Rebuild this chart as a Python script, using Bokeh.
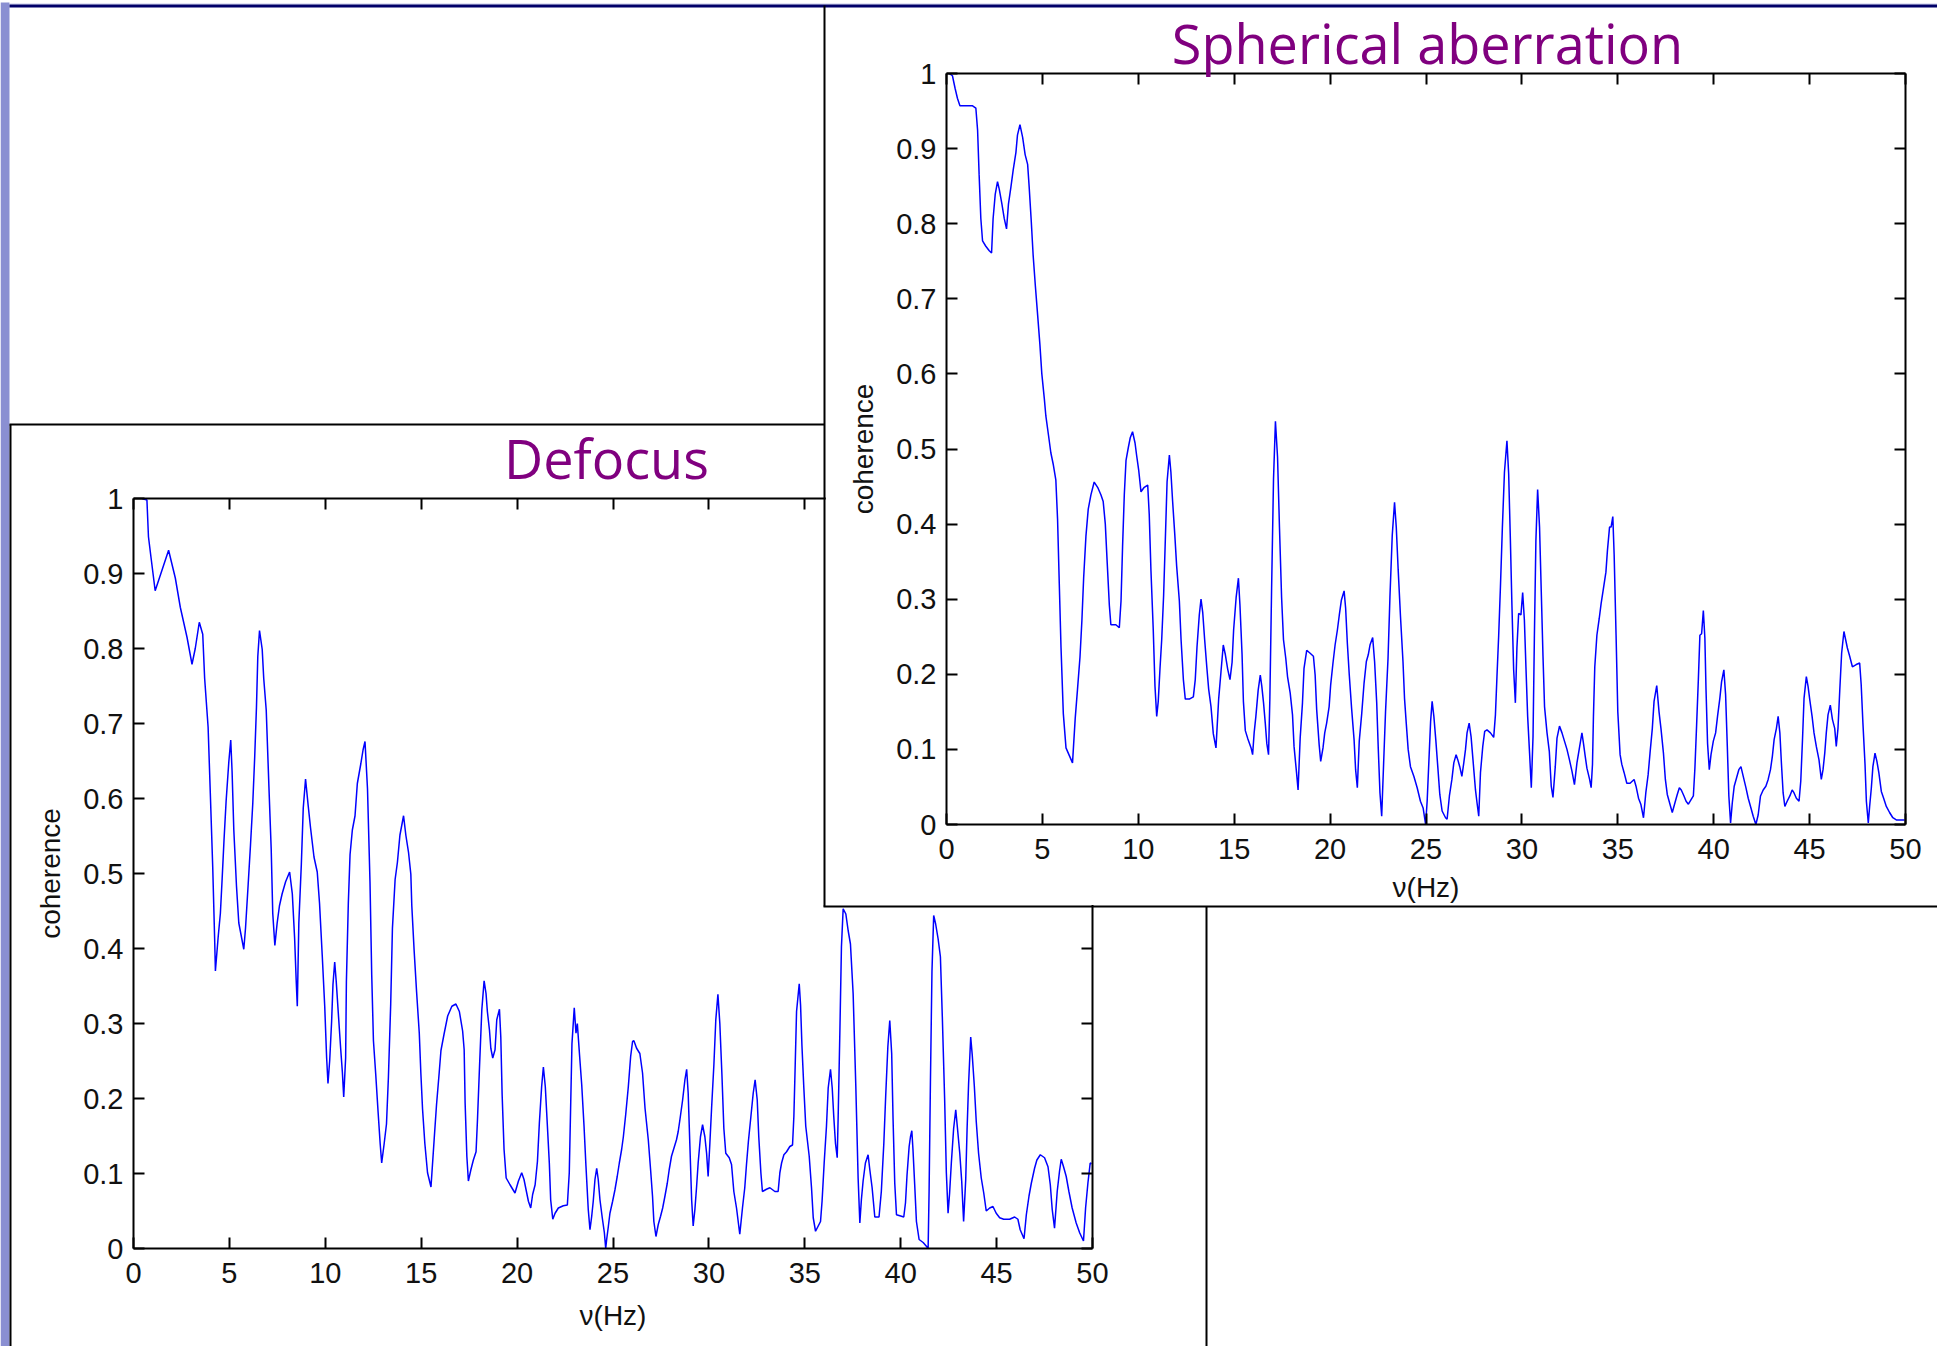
from bokeh.plotting import figure
from bokeh.models import Range1d, LinearAxis, FixedTicker
from bokeh.core.properties import value
from bokeh.embed import file_html
from bokeh.resources import INLINE

# ---------------- data ----------------
defocus_freq = [0.44, 0.70, 0.78, 0.92, 1.13, 1.83, 2.18, 2.44, 2.79, 3.05, 3.22, 3.43, 3.61, 3.71, 3.89, 4.01,
    4.13, 4.23, 4.27, 4.41, 4.53, 4.62, 4.72, 4.83, 4.97, 5.07, 5.14, 5.23, 5.37, 5.49, 5.75, 5.84, 5.98, 6.10,
    6.22, 6.32, 6.41, 6.48, 6.57, 6.71, 6.79, 6.92, 7.06, 7.18, 7.26, 7.37, 7.49, 7.61, 7.75, 7.93, 8.14, 8.28,
    8.40, 8.48, 8.54, 8.62, 8.75, 8.85, 8.97, 9.11, 9.23, 9.41, 9.58, 9.70, 9.84, 9.97, 10.07, 10.14, 10.23,
    10.33, 10.40, 10.49, 10.57, 10.68, 10.80, 10.89, 10.96, 11.06, 11.10, 11.20, 11.29, 11.41, 11.55, 11.67,
    11.85, 11.97, 12.07, 12.20, 12.33, 12.42, 12.51, 12.63, 12.75, 12.86, 12.94, 13.07, 13.19, 13.29, 13.41,
    13.50, 13.64, 13.76, 13.89, 14.08, 14.20, 14.34, 14.46, 14.51, 14.63, 14.76, 14.90, 14.98, 15.07, 15.19,
    15.33, 15.51, 15.68, 15.80, 15.94, 16.03, 16.20, 16.38, 16.60, 16.81, 16.99, 17.16, 17.24, 17.29, 17.38,
    17.46, 17.59, 17.72, 17.86, 17.93, 18.04, 18.16, 18.28, 18.38, 18.45, 18.56, 18.63, 18.73, 18.85, 18.94,
    19.08, 19.15, 19.22, 19.32, 19.43, 19.63, 19.89, 20.07, 20.24, 20.36, 20.47, 20.59, 20.71, 20.81, 20.94,
    21.06, 21.16, 21.28, 21.37, 21.47, 21.58, 21.68, 21.75, 21.86, 21.98, 22.15, 22.41, 22.62, 22.72, 22.79,
    22.86, 22.98, 23.07, 23.14, 23.25, 23.37, 23.49, 23.59, 23.71, 23.80, 23.89, 23.97, 24.06, 24.15, 24.23,
    24.32, 24.44, 24.55, 24.62, 24.67, 24.76, 24.84, 24.98, 25.10, 25.22, 25.33, 25.45, 25.54, 25.66, 25.80,
    25.92, 26.02, 26.09, 26.23, 26.40, 26.54, 26.67, 26.84, 26.96, 27.06, 27.13, 27.24, 27.36, 27.48, 27.59,
    27.71, 27.83, 27.93, 28.05, 28.18, 28.31, 28.40, 28.49, 28.63, 28.75, 28.84, 28.92, 29.01, 29.10, 29.18,
    29.27, 29.36, 29.44, 29.56, 29.67, 29.79, 29.88, 29.96, 30.05, 30.14, 30.26, 30.36, 30.47, 30.57, 30.68,
    30.78, 30.88, 31.06, 31.18, 31.30, 31.44, 31.61, 31.75, 31.87, 31.96, 32.06, 32.19, 32.31, 32.41, 32.52,
    32.60, 32.71, 32.79, 33.00, 33.18, 33.44, 33.61, 33.70, 33.79, 33.91, 34.05, 34.22, 34.36, 34.43, 34.50,
    34.57, 34.71, 34.78, 34.85, 34.95, 35.05, 35.23, 35.35, 35.44, 35.56, 35.70, 35.82, 35.90, 36.01, 36.13,
    36.22, 36.34, 36.43, 36.51, 36.60, 36.69, 36.74, 36.83, 36.91, 37.00, 37.14, 37.26, 37.38, 37.52, 37.66,
    37.78, 37.87, 37.95, 38.04, 38.16, 38.30, 38.39, 38.51, 38.65, 38.87, 38.99, 39.12, 39.22, 39.33, 39.43,
    39.53, 39.60, 39.69, 39.78, 40.04, 40.16, 40.25, 40.33, 40.44, 40.51, 40.58, 40.64, 40.73, 40.82, 40.96,
    41.17, 41.34, 41.43, 41.48, 41.55, 41.63, 41.72, 41.82, 41.95, 42.07, 42.17, 42.29, 42.38, 42.47, 42.55,
    42.64, 42.76, 42.87, 42.95, 43.08, 43.18, 43.28, 43.39, 43.46, 43.54, 43.65, 43.73, 43.84, 43.94, 44.06,
    44.20, 44.33, 44.46, 44.64, 44.81, 44.98, 45.16, 45.37, 45.68, 45.94, 46.11, 46.23, 46.43, 46.55, 46.69,
    46.81, 46.98, 47.10, 47.28, 47.50, 47.68, 47.80, 47.90, 48.02, 48.16, 48.28, 48.37, 48.49, 48.63, 48.77,
    48.94, 49.15, 49.33, 49.53, 49.64, 49.76, 49.88, 49.95]
defocus_coh = [1.000, 0.998, 0.949, 0.920, 0.877, 0.931, 0.894, 0.855, 0.815, 0.779, 0.800, 0.835, 0.819, 0.760,
    0.695, 0.603, 0.509, 0.414, 0.370, 0.414, 0.447, 0.492, 0.545, 0.597, 0.649, 0.678, 0.636, 0.558, 0.483,
    0.434, 0.399, 0.427, 0.486, 0.538, 0.594, 0.656, 0.721, 0.789, 0.824, 0.799, 0.760, 0.718, 0.616, 0.532,
    0.447, 0.404, 0.434, 0.457, 0.473, 0.489, 0.502, 0.473, 0.414, 0.359, 0.323, 0.434, 0.512, 0.587, 0.626,
    0.590, 0.561, 0.522, 0.502, 0.460, 0.391, 0.323, 0.254, 0.220, 0.251, 0.303, 0.352, 0.382, 0.356, 0.313,
    0.267, 0.235, 0.202, 0.254, 0.356, 0.460, 0.525, 0.558, 0.577, 0.620, 0.646, 0.665, 0.676, 0.613, 0.489,
    0.365, 0.277, 0.232, 0.183, 0.140, 0.114, 0.140, 0.166, 0.228, 0.326, 0.427, 0.492, 0.515, 0.551, 0.577,
    0.551, 0.528, 0.499, 0.457, 0.398, 0.342, 0.287, 0.235, 0.186, 0.140, 0.101, 0.082, 0.147, 0.192, 0.235,
    0.264, 0.287, 0.310, 0.323, 0.326, 0.316, 0.290, 0.265, 0.194, 0.123, 0.090, 0.105, 0.118, 0.129, 0.169,
    0.242, 0.318, 0.357, 0.340, 0.316, 0.291, 0.267, 0.254, 0.265, 0.305, 0.319, 0.282, 0.205, 0.132, 0.094,
    0.085, 0.074, 0.090, 0.101, 0.092, 0.078, 0.063, 0.054, 0.072, 0.085, 0.116, 0.167, 0.216, 0.242, 0.216,
    0.163, 0.114, 0.065, 0.039, 0.047, 0.054, 0.057, 0.058, 0.101, 0.187, 0.273, 0.321, 0.287, 0.300, 0.260,
    0.218, 0.163, 0.110, 0.052, 0.025, 0.043, 0.063, 0.092, 0.107, 0.092, 0.065, 0.041, 0.021, 0.000, 0.012,
    0.030, 0.047, 0.063, 0.078, 0.096, 0.114, 0.132, 0.149, 0.178, 0.216, 0.256, 0.276, 0.277, 0.267, 0.260,
    0.234, 0.187, 0.145, 0.105, 0.070, 0.036, 0.016, 0.032, 0.043, 0.054, 0.070, 0.087, 0.105, 0.123, 0.134,
    0.145, 0.156, 0.172, 0.198, 0.225, 0.239, 0.207, 0.136, 0.065, 0.030, 0.052, 0.083, 0.114, 0.149, 0.165,
    0.149, 0.127, 0.096, 0.140, 0.187, 0.245, 0.305, 0.339, 0.300, 0.231, 0.160, 0.127, 0.121, 0.112, 0.076,
    0.054, 0.019, 0.054, 0.081, 0.112, 0.143, 0.176, 0.207, 0.225, 0.198, 0.149, 0.101, 0.076, 0.079, 0.081,
    0.076, 0.076, 0.101, 0.114, 0.125, 0.129, 0.136, 0.138, 0.176, 0.245, 0.316, 0.353, 0.324, 0.271, 0.214,
    0.163, 0.123, 0.081, 0.041, 0.023, 0.030, 0.036, 0.063, 0.114, 0.163, 0.214, 0.239, 0.214, 0.176, 0.140,
    0.121, 0.176, 0.291, 0.402, 0.453, 0.446, 0.424, 0.406, 0.340, 0.216, 0.094, 0.034, 0.065, 0.090, 0.114,
    0.125, 0.105, 0.081, 0.042, 0.042, 0.076, 0.140, 0.205, 0.269, 0.304, 0.260, 0.174, 0.087, 0.045, 0.043,
    0.042, 0.061, 0.098, 0.136, 0.149, 0.157, 0.132, 0.085, 0.036, 0.012, 0.008, 0.003, 0.000, 0.076, 0.222,
    0.369, 0.444, 0.433, 0.413, 0.389, 0.309, 0.200, 0.101, 0.047, 0.074, 0.114, 0.160, 0.185, 0.163, 0.127,
    0.090, 0.036, 0.092, 0.158, 0.220, 0.282, 0.258, 0.216, 0.169, 0.127, 0.094, 0.074, 0.050, 0.054, 0.056,
    0.047, 0.041, 0.039, 0.039, 0.042, 0.039, 0.025, 0.013, 0.045, 0.070, 0.087, 0.107, 0.118, 0.125, 0.121,
    0.109, 0.085, 0.052, 0.027, 0.076, 0.103, 0.119, 0.109, 0.096, 0.076, 0.054, 0.034, 0.021, 0.010, 0.054,
    0.087, 0.114, 0.113]

spherical_freq = [0.14, 0.31, 0.45, 0.57, 0.70, 1.36, 1.53, 1.62, 1.70, 1.79, 1.88, 2.05, 2.23, 2.35, 2.43,
    2.54, 2.66, 2.75, 2.89, 3.01, 3.13, 3.23, 3.36, 3.48, 3.62, 3.70, 3.83, 3.97, 4.10, 4.23, 4.31, 4.42, 4.52,
    4.63, 4.75, 4.87, 4.97, 5.10, 5.18, 5.32, 5.44, 5.57, 5.70, 5.79, 5.88, 5.97, 6.09, 6.23, 6.40, 6.57, 6.71,
    6.83, 6.96, 7.06, 7.15, 7.27, 7.39, 7.53, 7.70, 7.88, 8.05, 8.17, 8.28, 8.38, 8.49, 8.57, 8.83, 9.01, 9.10,
    9.18, 9.27, 9.36, 9.48, 9.58, 9.70, 9.83, 9.91, 10.02, 10.14, 10.31, 10.49, 10.57, 10.66, 10.78, 10.87,
    10.96, 11.04, 11.13, 11.22, 11.32, 11.41, 11.50, 11.62, 11.70, 11.79, 11.90, 12.00, 12.14, 12.23, 12.35,
    12.45, 12.66, 12.87, 12.97, 13.06, 13.18, 13.27, 13.36, 13.46, 13.57, 13.67, 13.79, 13.91, 14.05, 14.19,
    14.31, 14.43, 14.54, 14.66, 14.78, 14.89, 14.97, 15.10, 15.22, 15.30, 15.41, 15.48, 15.58, 15.70, 15.88,
    15.96, 16.04, 16.13, 16.25, 16.36, 16.44, 16.53, 16.62, 16.70, 16.79, 16.86, 16.95, 17.05, 17.15, 17.26,
    17.36, 17.47, 17.57, 17.69, 17.78, 17.92, 18.04, 18.12, 18.25, 18.33, 18.44, 18.56, 18.64, 18.78, 18.96,
    19.13, 19.22, 19.30, 19.43, 19.51, 19.63, 19.72, 19.82, 19.95, 20.03, 20.15, 20.26, 20.38, 20.48, 20.59,
    20.73, 20.81, 20.90, 21.00, 21.12, 21.25, 21.33, 21.42, 21.52, 21.65, 21.77, 21.89, 21.99, 22.08, 22.22,
    22.32, 22.43, 22.51, 22.60, 22.69, 22.81, 22.89, 23.02, 23.12, 23.24, 23.36, 23.45, 23.55, 23.67, 23.80,
    23.88, 23.97, 24.07, 24.19, 24.37, 24.54, 24.71, 24.85, 24.98, 25.06, 25.15, 25.24, 25.32, 25.41, 25.51,
    25.62, 25.72, 25.84, 26.02, 26.10, 26.22, 26.35, 26.45, 26.57, 26.66, 26.76, 26.87, 26.97, 27.06, 27.14,
    27.25, 27.35, 27.45, 27.58, 27.66, 27.75, 27.84, 27.96, 28.06, 28.18, 28.36, 28.53, 28.62, 28.70, 28.79,
    28.88, 28.98, 29.09, 29.22, 29.31, 29.40, 29.48, 29.57, 29.66, 29.74, 29.83, 29.95, 30.04, 30.13, 30.21,
    30.30, 30.40, 30.49, 30.58, 30.65, 30.73, 30.82, 30.92, 31.01, 31.10, 31.18, 31.31, 31.43, 31.53, 31.62,
    31.74, 31.83, 31.96, 32.09, 32.22, 32.35, 32.48, 32.61, 32.74, 32.87, 33.00, 33.13, 33.21, 33.30, 33.39,
    33.53, 33.61, 33.68, 33.73, 33.80, 33.91, 34.03, 34.13, 34.25, 34.38, 34.46, 34.57, 34.65, 34.74, 34.81,
    34.91, 35.00, 35.12, 35.21, 35.33, 35.47, 35.64, 35.85, 35.95, 36.08, 36.20, 36.34, 36.46, 36.58, 36.68,
    36.80, 36.89, 37.03, 37.15, 37.25, 37.38, 37.48, 37.58, 37.72, 37.84, 37.98, 38.10, 38.21, 38.31, 38.45,
    38.56, 38.68, 38.82, 38.94, 39.02, 39.11, 39.20, 39.28, 39.37, 39.46, 39.54, 39.60, 39.68, 39.77, 39.86,
    39.98, 40.10, 40.20, 40.32, 40.41, 40.53, 40.62, 40.71, 40.79, 40.88, 40.97, 41.07, 41.19, 41.31, 41.42,
    41.54, 41.68, 41.80, 41.92, 42.06, 42.20, 42.32, 42.44, 42.58, 42.72, 42.84, 42.96, 43.06, 43.15, 43.27,
    43.36, 43.45, 43.53, 43.62, 43.71, 43.83, 43.97, 44.09, 44.19, 44.31, 44.45, 44.54, 44.63, 44.71, 44.83,
    44.92, 45.01, 45.13, 45.23, 45.35, 45.49, 45.61, 45.70, 45.79, 45.87, 45.96, 46.08, 46.19, 46.31, 46.39,
    46.48, 46.57, 46.67, 46.79, 46.88, 46.97, 47.09, 47.23, 47.43, 47.61, 47.69, 47.78, 47.89, 47.96, 48.06,
    48.13, 48.22, 48.30, 48.41, 48.51, 48.61, 48.74, 48.86, 49.00, 49.17, 49.34, 49.52, 49.95]
spherical_coh = [1.000, 0.997, 0.980, 0.967, 0.957, 0.957, 0.954, 0.925, 0.866, 0.807, 0.777, 0.770, 0.764,
    0.761, 0.807, 0.839, 0.856, 0.846, 0.826, 0.807, 0.793, 0.826, 0.849, 0.872, 0.895, 0.918, 0.932, 0.915,
    0.892, 0.879, 0.849, 0.803, 0.757, 0.718, 0.679, 0.639, 0.600, 0.567, 0.544, 0.518, 0.495, 0.479, 0.459,
    0.407, 0.321, 0.236, 0.148, 0.102, 0.092, 0.082, 0.141, 0.180, 0.223, 0.272, 0.328, 0.384, 0.420, 0.439,
    0.456, 0.449, 0.439, 0.430, 0.400, 0.348, 0.292, 0.266, 0.266, 0.262, 0.298, 0.370, 0.439, 0.485, 0.502,
    0.515, 0.523, 0.508, 0.492, 0.472, 0.443, 0.449, 0.452, 0.413, 0.338, 0.259, 0.184, 0.144, 0.164, 0.207,
    0.246, 0.305, 0.380, 0.456, 0.492, 0.469, 0.430, 0.387, 0.344, 0.298, 0.246, 0.193, 0.167, 0.167, 0.170,
    0.193, 0.236, 0.279, 0.300, 0.282, 0.246, 0.210, 0.180, 0.157, 0.121, 0.102, 0.167, 0.203, 0.239, 0.226,
    0.207, 0.193, 0.216, 0.259, 0.302, 0.328, 0.292, 0.226, 0.164, 0.125, 0.115, 0.102, 0.093, 0.122, 0.144,
    0.179, 0.199, 0.184, 0.162, 0.135, 0.108, 0.093, 0.168, 0.314, 0.460, 0.537, 0.489, 0.396, 0.303, 0.246,
    0.221, 0.197, 0.175, 0.146, 0.104, 0.069, 0.046, 0.115, 0.162, 0.208, 0.232, 0.228, 0.224, 0.199, 0.153,
    0.106, 0.084, 0.102, 0.122, 0.135, 0.157, 0.186, 0.215, 0.239, 0.259, 0.279, 0.299, 0.311, 0.288, 0.241,
    0.199, 0.155, 0.113, 0.073, 0.049, 0.111, 0.148, 0.188, 0.217, 0.226, 0.239, 0.249, 0.217, 0.162, 0.102,
    0.042, 0.011, 0.095, 0.150, 0.221, 0.303, 0.385, 0.429, 0.396, 0.339, 0.277, 0.217, 0.168, 0.135, 0.100,
    0.077, 0.064, 0.049, 0.031, 0.022, 0.000, 0.031, 0.084, 0.137, 0.164, 0.144, 0.113, 0.075, 0.040, 0.018,
    0.009, 0.007, 0.038, 0.060, 0.082, 0.093, 0.086, 0.077, 0.064, 0.082, 0.100, 0.122, 0.135, 0.117, 0.086,
    0.046, 0.029, 0.011, 0.069, 0.104, 0.124, 0.126, 0.122, 0.116, 0.146, 0.197, 0.252, 0.316, 0.394, 0.469,
    0.511, 0.467, 0.378, 0.292, 0.206, 0.162, 0.235, 0.281, 0.279, 0.309, 0.272, 0.210, 0.144, 0.095, 0.049,
    0.117, 0.248, 0.378, 0.446, 0.396, 0.310, 0.224, 0.157, 0.122, 0.097, 0.051, 0.036, 0.077, 0.115, 0.131,
    0.122, 0.111, 0.100, 0.086, 0.071, 0.053, 0.082, 0.102, 0.122, 0.108, 0.091, 0.075, 0.060, 0.049, 0.080,
    0.144, 0.210, 0.252, 0.274, 0.294, 0.314, 0.336, 0.365, 0.396, 0.396, 0.410, 0.359, 0.252, 0.150, 0.093,
    0.080, 0.069, 0.055, 0.055, 0.060, 0.051, 0.035, 0.027, 0.009, 0.042, 0.066, 0.095, 0.128, 0.164, 0.185,
    0.150, 0.128, 0.095, 0.060, 0.040, 0.027, 0.016, 0.029, 0.040, 0.049, 0.046, 0.038, 0.031, 0.027, 0.033,
    0.038, 0.075, 0.133, 0.193, 0.252, 0.254, 0.285, 0.248, 0.179, 0.108, 0.073, 0.093, 0.111, 0.122, 0.144,
    0.168, 0.190, 0.206, 0.173, 0.104, 0.038, 0.002, 0.029, 0.051, 0.062, 0.073, 0.077, 0.064, 0.049, 0.035,
    0.024, 0.011, 0.000, 0.013, 0.038, 0.046, 0.051, 0.060, 0.073, 0.091, 0.113, 0.128, 0.144, 0.122, 0.082,
    0.042, 0.024, 0.031, 0.038, 0.046, 0.042, 0.035, 0.031, 0.058, 0.113, 0.168, 0.197, 0.184, 0.166, 0.144,
    0.122, 0.104, 0.086, 0.060, 0.073, 0.095, 0.122, 0.146, 0.159, 0.140, 0.128, 0.104, 0.128, 0.177, 0.228,
    0.257, 0.246, 0.235, 0.224, 0.210, 0.213, 0.215, 0.186, 0.135, 0.080, 0.031, 0.002, 0.024, 0.049, 0.077,
    0.095, 0.084, 0.069, 0.044, 0.035, 0.024, 0.016, 0.009, 0.006, 0.006]

x_ticks = [0, 5, 10, 15, 20, 25, 30, 35, 40, 45, 50]
y_ticks = [0, 0.1, 0.2, 0.3, 0.4, 0.5, 0.6, 0.7, 0.8, 0.9, 1]
y_tick_overrides = {0: "0", 1: "1"}
x_label = "ν(Hz)"
y_label = "coherence"
titles = ["Defocus", "Spherical aberration"]

TICK_FONT = "Liberation Sans"
TITLE_FONT = "Open Sans"
TITLE_COLOR = "#80007f"
W, H = 1937, 1346


def make_chart(freq, coh, cw, ch, bl, br, bt, bb, left, top, xlabel_standoff):
    p = figure(width=cw, height=ch, x_range=Range1d(0, 50), y_range=Range1d(0, 1),
               output_backend="svg", toolbar_location=None,
               min_border_left=bl, min_border_right=br, min_border_top=bt, min_border_bottom=bb,
               x_axis_label=x_label, y_axis_label=y_label)
    p.border_fill_color = "white"
    p.background_fill_color = "white"
    p.outline_line_color = None
    p.grid.visible = False
    for side in ("above", "right"):
        ax = LinearAxis(axis_label=None, major_label_text_color=None, major_label_standoff=0)
        p.add_layout(ax, side)
    p.xaxis.ticker = FixedTicker(ticks=x_ticks)
    p.yaxis.ticker = FixedTicker(ticks=y_ticks)
    for ax in p.axis:
        ax.major_tick_in = 11
        ax.major_tick_out = 0
        ax.minor_tick_line_color = None
        ax.major_tick_line_color = "black"
        ax.major_tick_line_width = 2
        ax.axis_line_color = "black"
        ax.axis_line_width = 2
    for ax in (p.below[0], p.left[0]):
        ax.major_label_text_font = TICK_FONT
        ax.major_label_text_font_size = "29px"
        ax.major_label_text_color = "#111111"
        ax.axis_label_text_font = TICK_FONT
        ax.axis_label_text_font_size = "28px"
        ax.axis_label_text_font_style = "normal"
        ax.axis_label_text_color = "#111111"
    p.below[0].major_label_standoff = 14
    p.left[0].major_label_standoff = 10
    p.below[0].axis_label_standoff = xlabel_standoff
    p.left[0].axis_label_standoff = 14
    p.left[0].major_label_overrides = y_tick_overrides

    p.line(freq, coh, line_color="#0000ff", line_width=1.5)
    p.styles = {"position": "absolute", "left": f"{left}px", "top": f"{top}px"}
    return p


p_def = make_chart(defocus_freq, defocus_coh, 1194, 921, 122, 113, 73, 98, 11, 425, 14)
p_sph = make_chart(spherical_freq, spherical_coh, 1112, 898, 121, 32, 66, 80, 825, 7, 10)

# transparent slide overlay (page pixel coordinates): strip, rules, frame borders, titles
page = figure(width=W, height=H, x_range=Range1d(0, W), y_range=Range1d(H, 0),
              output_backend="svg", toolbar_location=None, min_border=0,
              x_axis_type=None, y_axis_type=None)
page.outline_line_color = None
page.border_fill_color = None
page.background_fill_color = None
page.quad(left=0, right=9, top=2, bottom=H, fill_color="#8a8fd2", line_color=None)
page.segment(x0=9, y0=3.5, x1=W, y1=3.5, line_color="#c4c6ea", line_width=1)
page.segment(x0=9, y0=5.5, x1=W, y1=5.5, line_color="#000068", line_width=3)
# defocus window frame (visible parts)
page.segment(x0=[10, 9, 1206], y0=[424, 424, 906], x1=[10, 824, 1206], y1=[H, 424, H],
             line_color="black", line_width=2)
# spherical window frame (in front)
page.segment(x0=[824, 823], y0=[5, 906], x1=[824, W], y1=[906, 906], line_color="black", line_width=2)
page.text(x=[606, 1427], y=[457, 42], text=titles, text_font=value(TITLE_FONT), text_font_size="54px",
          text_color=TITLE_COLOR, text_align="center", text_baseline="alphabetic")
page.styles = {"position": "absolute", "left": "0px", "top": "0px"}

open("out.html", "w").write(file_html([p_def, p_sph, page], INLINE))
